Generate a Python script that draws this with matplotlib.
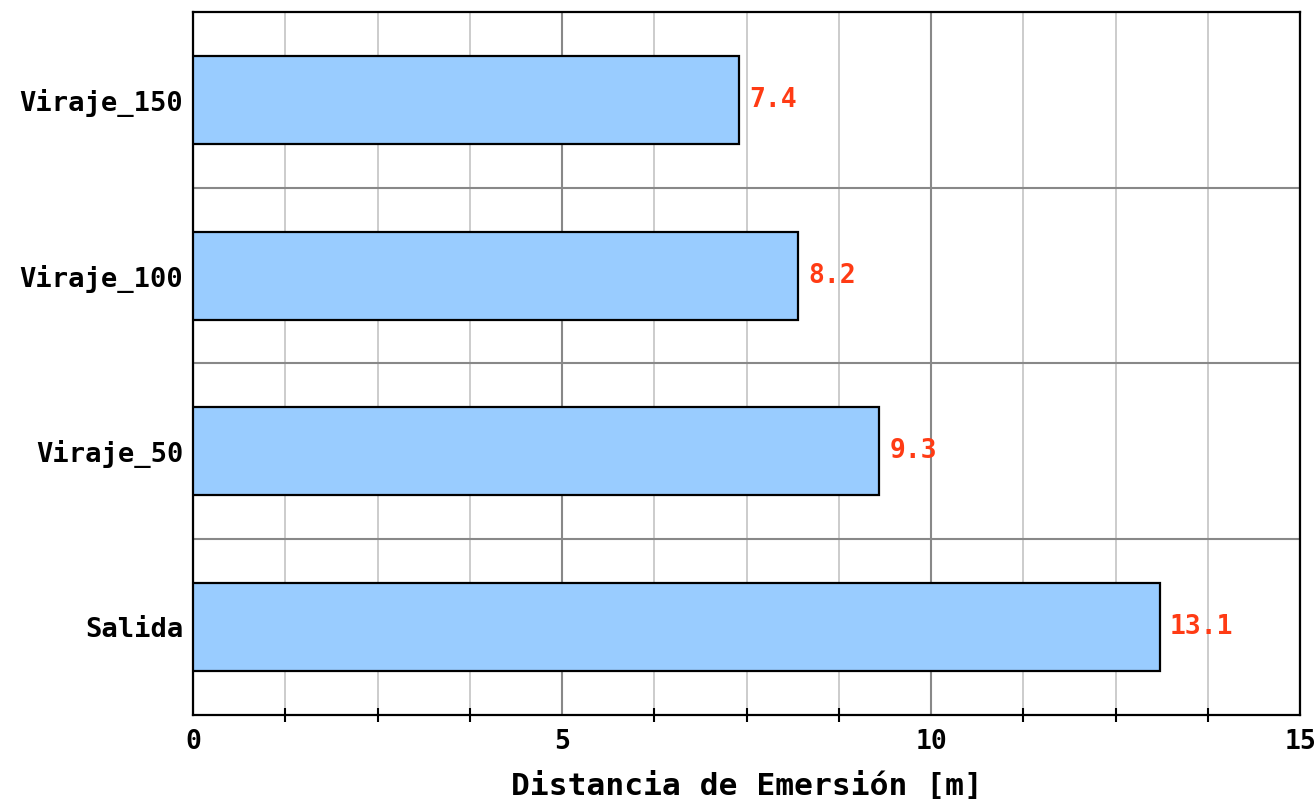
import matplotlib.pyplot as plt
from matplotlib.ticker import MultipleLocator

categorias = ['Salida', 'Viraje_50', 'Viraje_100', 'Viraje_150']
distancias = [13.1, 9.3, 8.2, 7.4]

plt.rcParams['font.family'] = 'DejaVu Sans Mono'
plt.rcParams['font.weight'] = 'bold'

fig = plt.figure(figsize=(13.15, 8.05), dpi=100)
ax = fig.add_axes([0.1468, 0.1118, 0.8418, 0.8733])

pos = list(range(len(categorias)))
ax.barh(pos, distancias, height=0.5, color='#99ccff', edgecolor='black', linewidth=1.6, zorder=3)

for p, d in zip(pos, distancias):
    ax.text(d + 0.14, p, f'{d:.1f}', color='#ff3b14', fontsize=19, fontweight='bold',
            va='center', ha='left', zorder=4)

ax.set_xlim(0, 15)
ax.set_ylim(-0.5, 3.5)
ax.set_xticks([0, 5, 10, 15])
ax.xaxis.set_minor_locator(MultipleLocator(1.25))
ax.set_yticks(pos)
ax.set_yticklabels(categorias)
ax.set_yticks([0.5, 1.5, 2.5], minor=True)

ax.tick_params(axis='x', which='major', length=0, labelsize=19, pad=10)
ax.tick_params(axis='x', which='minor', direction='inout', length=10, width=1.5)
ax.tick_params(axis='y', which='both', length=0, labelsize=19.5, pad=7)

ax.grid(which='major', axis='x', color='#888888', linewidth=1.5, zorder=0)
ax.grid(which='minor', axis='x', color='#c4c4c4', linewidth=1.2, zorder=0)
ax.grid(which='minor', axis='y', color='#888888', linewidth=1.5, zorder=0)
ax.set_axisbelow(True)

for s in ax.spines.values():
    s.set_linewidth(1.6)

ax.set_xlabel('Distancia de Emersión [m]', fontsize=22.5, fontweight='bold', labelpad=12)

fig.savefig('out.png', dpi=100)
